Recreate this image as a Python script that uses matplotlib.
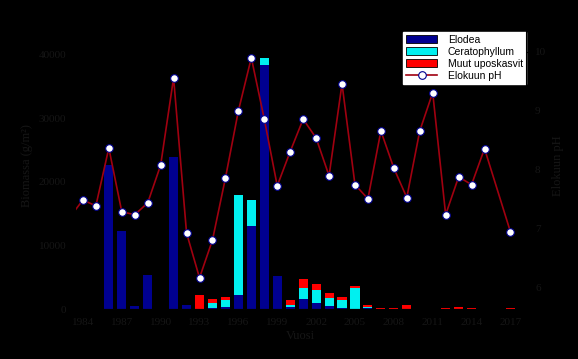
import matplotlib
matplotlib.use("Agg")
import matplotlib.pyplot as plt
import numpy as np

years = np.arange(1983, 2018)

# biomass values per year (1983..2017)
elodea = [0, 0, 0, 22700, 12300, 500, 5300, 0, 23900, 600, 0, 150, 400, 2200, 13100, 38400,
          5200, 300, 1600, 950, 450, 150, 0, 100, 0, 0, 0, 0, 0, 0, 0, 0, 0, 0, 0]
ceratophyllum = [0, 0, 0, 0, 0, 0, 0, 0, 0, 0, 0, 800, 1100, 15800, 4100, 1100,
                 0, 300, 1700, 2050, 1250, 1250, 3300, 300, 0, 0, 0, 0, 0, 0, 0, 0, 0, 0, 0]
muut = [0, 0, 0, 0, 0, 0, 0, 0, 0, 0, 2200, 600, 450, 0, 0, 0,
        0, 800, 1400, 950, 800, 450, 400, 300, 200, 150, 650, 0, 0, 250, 400, 250, 0, 0, 250]

ph_years = [1983, 1984, 1985, 1986, 1987, 1988, 1989, 1990, 1991, 1992, 1993, 1994, 1995, 1996,
            1997, 1998, 1999, 2000, 2001, 2002, 2003, 2004, 2005, 2006, 2007, 2008, 2009,
            2010, 2011, 2012, 2013, 2014, 2015, 2017]
ph = [7.2, 7.49, 7.39, 8.37, 7.29, 7.24, 7.44, 8.08, 9.56, 6.93, 6.17, 6.81, 7.86, 9.0,
      9.9, 8.86, 7.73, 8.31, 8.86, 8.54, 7.9, 9.46, 7.75, 7.51, 8.66, 8.03, 7.53,
      8.66, 9.31, 7.24, 7.88, 7.75, 8.36, 6.95]

xticks = [1984, 1987, 1990, 1993, 1996, 1999, 2002, 2005, 2008, 2011, 2014, 2017]

txt = '#161616'
fig = plt.figure(figsize=(5.78, 3.59), dpi=100, facecolor='black')
ax = fig.add_axes([0.130, 0.139, 0.780, 0.797], facecolor='black')

elodea = np.array(elodea)
ceratophyllum = np.array(ceratophyllum)
muut = np.array(muut)
w = 0.7
b1 = ax.bar(years, elodea, w, color='#000090', edgecolor='none', label='Elodea')
b2 = ax.bar(years, ceratophyllum, w, bottom=elodea, color='#00F0F0', edgecolor='none', label='Ceratophyllum')
b3 = ax.bar(years, muut, w, bottom=elodea + ceratophyllum, color='#FF0000', edgecolor='none', label='Muut uposkasvit')

ax.set_xlim(1983.4, 2018.2)
ax.set_ylim(0, 45000)
ax.set_yticks([0, 10000, 20000, 30000, 40000])
ax.set_xticks(xticks)
ax.tick_params(colors='black', labelcolor=txt, labelsize=8, direction='out', length=3)
for lab in ax.get_xticklabels() + ax.get_yticklabels():
    lab.set_family('Liberation Serif')
for s in ax.spines.values():
    s.set_color('black')
ax.set_xlabel('Vuosi', color=txt, fontsize=9, family='Liberation Serif', labelpad=2)
ax.set_ylabel('Biomassa (g/m²)', color=txt, fontsize=9, family='Liberation Serif')

ax2 = ax.twinx()
ax2.set_ylim(5.64, 10.49)
ax2.set_yticks([6, 7, 8, 9, 10])
l1, = ax2.plot(ph_years, ph, color='#A00010', lw=1.2, marker='o', markersize=5.5,
               markerfacecolor='white', markeredgecolor='#000090', markeredgewidth=0.8,
               label='Elokuun pH')
ax2.tick_params(colors='black', labelcolor=txt, labelsize=8, direction='out', length=3)
for lab in ax2.get_yticklabels():
    lab.set_family('Liberation Serif')
for s in ax2.spines.values():
    s.set_color('black')
ax2.set_ylabel('Elokuun pH', color=txt, fontsize=9, family='Liberation Serif')

leg = ax.legend([b1, b2, b3, l1], ['Elodea', 'Ceratophyllum', 'Muut uposkasvit', 'Elokuun pH'],
                loc='upper right', bbox_to_anchor=(1.0, 0.97),
                prop={'family': 'Liberation Sans', 'size': 7.5},
                frameon=True, fancybox=False, framealpha=1, edgecolor='white',
                handlelength=3.0, handleheight=0.8, handletextpad=1.0,
                labelspacing=0.2, borderpad=0.3, borderaxespad=0)
leg.get_frame().set_facecolor('white')
for h in leg.legend_handles[:3]:
    h.set_edgecolor('black')
    h.set_linewidth(0.6)

fig.savefig('out.png', dpi=100, facecolor='black')
